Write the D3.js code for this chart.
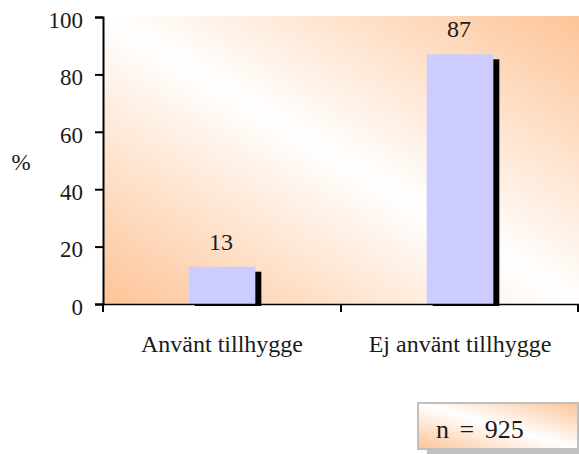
<!DOCTYPE html>
<html>
<head>
<meta charset="utf-8">
<script src="https://cdn.jsdelivr.net/npm/d3@7"></script>
<style>
  html, body { margin: 0; padding: 0; background: #fff; }
  svg { display: block; }
  text { font-family: "Liberation Serif", "DejaVu Serif", serif; fill: #1a1a1a; }
</style>
</head>
<body>
<svg id="chart" width="579" height="454"></svg>
<script>
// Data
const categories = ["Använt tillhygge", "Ej använt tillhygge"];
const values = [13, 87];
const yTicks = [0, 20, 40, 60, 80, 100];
const yLabel = "%";
const nLabel = "n = 925";

const W = 579, H = 454;
const margin = { left: 103, top: 17, right: 0 };
const plotW = W - margin.left - margin.right;
const plotH = 304 - margin.top;

const svg = d3.select("#chart");
const defs = svg.append("defs");

// Diagonal orange-white-orange fill
function diagGradient(id) {
  const g = defs.append("linearGradient")
    .attr("id", id)
    .attr("x1", 0).attr("y1", 1).attr("x2", 1).attr("y2", 0);
  g.append("stop").attr("offset", "0%").attr("stop-color", "#fdc497");
  g.append("stop").attr("offset", "50%").attr("stop-color", "#ffffff");
  g.append("stop").attr("offset", "100%").attr("stop-color", "#fdc497");
}
diagGradient("plotBg");
diagGradient("boxBg");

const x = d3.scaleBand().domain(categories).range([0, plotW]).paddingInner(0).paddingOuter(0);
const y = d3.scaleLinear().domain([0, 100]).range([plotH, 0]);

const g = svg.append("g").attr("transform", `translate(${margin.left},${margin.top})`);

// Plot background
g.append("rect")
  .attr("x", 0).attr("y", -1)
  .attr("width", plotW).attr("height", plotH + 1)
  .attr("fill", "url(#plotBg)");

const barW = x.bandwidth() * 0.28;
const shadowDx = 6, shadowDy = 5;

// Bar shadows
g.selectAll("rect.shadow")
  .data(values)
  .join("rect")
  .attr("class", "shadow")
  .attr("x", (d, i) => x(categories[i]) + (x.bandwidth() - barW) / 2 + shadowDx)
  .attr("y", d => y(d) + shadowDy)
  .attr("width", barW)
  .attr("height", d => plotH - y(d) - shadowDy + 2)
  .attr("fill", "#000");

// Bars
g.selectAll("rect.bar")
  .data(values)
  .join("rect")
  .attr("class", "bar")
  .attr("x", (d, i) => x(categories[i]) + (x.bandwidth() - barW) / 2)
  .attr("y", d => y(d))
  .attr("width", barW)
  .attr("height", d => plotH - y(d))
  .attr("fill", "#ccccff");

// Value labels
g.selectAll("text.val")
  .data(values)
  .join("text")
  .attr("class", "val")
  .attr("x", (d, i) => x(categories[i]) + x.bandwidth() / 2 - 1)
  .attr("y", d => y(d) - 17)
  .attr("text-anchor", "middle")
  .attr("font-size", 24)
  .text(d => d);

// Y axis
const yAxis = g.append("g")
  .call(d3.axisLeft(y).tickValues(yTicks).tickSize(8).tickPadding(12));
yAxis.select(".domain").attr("stroke", "#000").attr("stroke-width", 2);
yAxis.selectAll(".tick line").attr("stroke", "#000").attr("stroke-width", 2);
yAxis.selectAll(".tick text")
  .attr("font-size", 23).attr("fill", "#1a1a1a")
  .attr("dy", "0.45em");

// X axis
const xAxis = g.append("g")
  .attr("transform", `translate(0,${plotH})`)
  .call(d3.axisBottom(x).tickSize(0).tickPadding(0));
xAxis.select(".domain").attr("stroke", "#000").attr("stroke-width", 1.5);
xAxis.selectAll(".tick text")
  .attr("y", 48).attr("dy", 0)
  .attr("font-size", 24).attr("fill", "#1a1a1a");

// Category boundary ticks
const bounds = [0, x.bandwidth(), plotW - 1];
g.selectAll("line.xtick")
  .data(bounds)
  .join("line")
  .attr("class", "xtick")
  .attr("x1", d => d).attr("x2", d => d)
  .attr("y1", plotH).attr("y2", plotH + 8)
  .attr("stroke", "#000").attr("stroke-width", 2);

// Y label
svg.append("text")
  .attr("x", 21).attr("y", 170)
  .attr("text-anchor", "middle")
  .attr("font-size", 23)
  .text(yLabel);

// Sample size box with shadow
const box = { x: 417, y: 402, w: 162, h: 48 };
svg.append("rect")
  .attr("x", box.x + 10).attr("y", box.y + 4)
  .attr("width", box.w).attr("height", box.h)
  .attr("fill", "#c0c0c0");
svg.append("rect")
  .attr("x", box.x + 1).attr("y", box.y + 1)
  .attr("width", box.w - 2).attr("height", box.h - 2)
  .attr("fill", "url(#boxBg)")
  .attr("stroke", "#c0c0c0").attr("stroke-width", 2);
svg.append("text")
  .attr("x", 436).attr("y", 438)
  .attr("font-size", 26)
  .attr("word-spacing", 4)
  .text(nLabel);
</script>
</body>
</html>
